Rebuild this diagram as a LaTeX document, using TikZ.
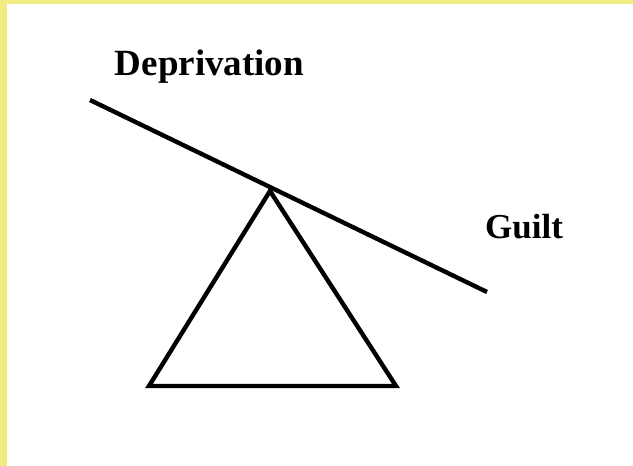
\documentclass[tikz,border=0pt]{standalone}
\usepackage{fontspec}
\setmainfont{Liberation Serif}
\definecolor{frameyellow}{RGB}{240,236,130}
\begin{document}
\begin{tikzpicture}[x=1pt,y=-1pt,
  lbl/.style={font=\fontsize{35}{40}\selectfont\bfseries, anchor=base, inner sep=0pt},
  thick line/.style={line width=4.4pt, line cap=butt, line join=miter}]
\useasboundingbox (0,0) rectangle (633,466);
\fill[white] (0,0) rectangle (633,466);
\fill[frameyellow] (0,0) rectangle (7,466);
\fill[frameyellow] (0,0) rectangle (633,4);
\coordinate (L) at (90,100);
\coordinate (R) at (487,292);
\coordinate (A) at (270,191);
\coordinate (B) at (149,386);
\coordinate (C) at (396,386);
\draw[thick line] (L) -- (R);
\draw[thick line] (A) -- (B) -- (C) -- cycle;
\node[lbl, font=\fontsize{37}{42}\selectfont\bfseries] (dep) at (209.5,75) {Deprivation};
\node[lbl] (guilt) at (524,238) {Guilt};
\end{tikzpicture}
\end{document}
